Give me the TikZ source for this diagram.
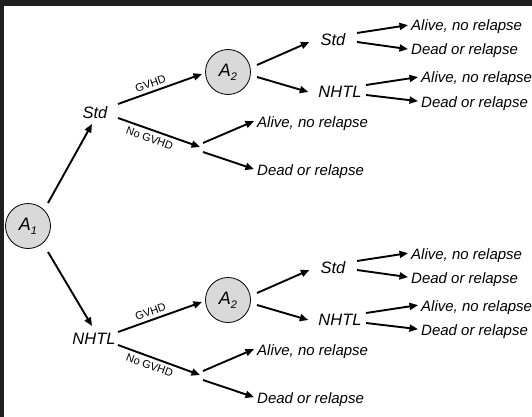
\documentclass[tikz,border=0pt]{standalone}
\usepackage{fontspec}
\setmainfont{Liberation Sans}
\usetikzlibrary{arrows.meta}
\begin{document}
\begin{tikzpicture}[x=1pt,y=-1pt,
  arr/.style={line width=1.9pt,-{Triangle[length=8.5pt,width=7pt]}},
  decision/.style={circle,draw,line width=0.8pt,fill=black!15,minimum size=45pt,inner sep=0pt,
    font=\fontsize{18}{18}\selectfont\itshape},
  arm/.style={inner sep=0pt,font=\fontsize{16.5}{16.5}\selectfont\itshape},
  outcome/.style={inner sep=0pt,anchor=base west,font=\fontsize{15}{15}\selectfont\itshape},
  branchlbl/.style={inner sep=3.5pt,sloped,pos=0.42,font=\fontsize{11}{11}\selectfont}
]
\newcommand{\subidx}[1]{\raisebox{-4pt}{\fontsize{11}{11}\selectfont #1}}
\useasboundingbox (0,0) rectangle (532,417);
\fill[white] (0,0) rectangle (532,417);
% dark frame along the top and left edges
\fill[black!88] (0,0) rectangle (532,6);
\fill[black!88] (0,0) rectangle (4,417);

% first decision and its two arms
\node[decision] (a1) at (28,226) {A\subidx{1}};
\node[arm] (armt) at (95,113) {Std};
\node[arm] (armb) at (94,339) {NHTL};
\draw[arr] ([shift={(20,-23)}]a1.center) -- ([shift={(-3,11)}]armt.center);
\draw[arr] ([shift={(20,26)}]a1.center) -- ([shift={(-2,-13)}]armb.center);

% the two identical subtrees
\foreach \k/\dy in {t/0,b/228}{
  \begin{scope}[shift={(0,\dy)}]
    \node[decision] (\k-a2) at (228,72) {A\subidx{2}};
    \node[arm] (\k-std) at (333,40) {Std};
    \node[arm] (\k-nhtl) at (340,92) {NHTL};
    \coordinate (\k-c) at (200,147);
    \node[outcome] (\k-o1) at (257,127) {Alive, no relapse};
    \node[outcome] (\k-o2) at (257,175) {Dead or relapse};
    \node[outcome] (\k-o3) at (411,31) {Alive, no relapse};
    \node[outcome] (\k-o4) at (411,55) {Dead or relapse};
    \node[outcome] (\k-o5) at (421,83) {Alive, no relapse};
    \node[outcome] (\k-o6) at (421,107) {Dead or relapse};
  \end{scope}
  % chance node without GVHD
  \draw[arr] ([shift={(3,-4)}]\k-c) -- ([shift={(-3,-2)}]\k-o1.west);
  \draw[arr] ([shift={(3,5)}]\k-c) -- ([shift={(-3,-2)}]\k-o2.west);
  % second decision
  \draw[arr] ([shift={(29,-7)}]\k-a2.center) -- ([shift={(-11,2)}]\k-std.west);
  \draw[arr] ([shift={(29,5)}]\k-a2.center) -- ([shift={(-10,0)}]\k-nhtl.west);
  % outcomes of the second arms
  \draw[arr] ([shift={(24,-7)}]\k-std.center) -- ([shift={(-3,-2)}]\k-o3.west);
  \draw[arr] ([shift={(24,2)}]\k-std.center) -- ([shift={(-3,-2)}]\k-o4.west);
  \draw[arr] ([shift={(26,-7)}]\k-nhtl.center) -- ([shift={(-3,-2)}]\k-o5.west);
  \draw[arr] ([shift={(26,3)}]\k-nhtl.center) -- ([shift={(-3,-2)}]\k-o6.west);
}

% GVHD branches from the first arms
\draw[arr] ([shift={(23,-9)}]armt.center) -- node[branchlbl,above]{GVHD} ([shift={(-26,2)}]t-a2.center);
\draw[arr] ([shift={(23,5)}]armt.center) -- node[branchlbl,below]{No GVHD} (t-c);
\draw[arr] ([shift={(24,-7)}]armb.center) -- node[branchlbl,above]{GVHD} ([shift={(-26,2)}]b-a2.center);
\draw[arr] ([shift={(24,6)}]armb.center) -- node[branchlbl,below]{No GVHD} (b-c);
\end{tikzpicture}
\end{document}
